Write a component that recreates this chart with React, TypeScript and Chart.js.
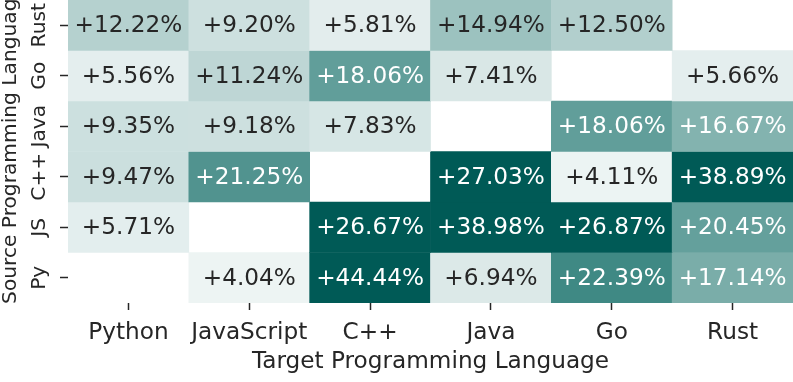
import React, { useEffect, useRef } from "react";
import { Chart, registerables } from "chart.js";

Chart.register(...registerables);

// Target (columns, left to right)
const targetLanguages = ["Python", "JavaScript", "C++", "Java", "Go", "Rust"];
// Source (rows, top to bottom)
const sourceLanguages = ["Rust", "Go", "Java", "C++", "JS", "Py"];

// Relative improvement (%) per source row; null = same language (blank cell)
const rowRust = [12.22, 9.2, 5.81, 14.94, 12.5, null];
const rowGo = [5.56, 11.24, 18.06, 7.41, null, 5.66];
const rowJava = [9.35, 9.18, 7.83, null, 18.06, 16.67];
const rowCpp = [9.47, 21.25, null, 27.03, 4.11, 38.89];
const rowJS = [5.71, null, 26.67, 38.98, 26.87, 20.45];
const rowPy = [null, 4.04, 44.44, 6.94, 22.39, 17.14];

const xTitle = "Target Programming Language";
const yTitle = "Source Programming Language";

const FONT = "'DejaVu Sans', 'Liberation Sans', sans-serif";
const FONT_SIZE = 23.2;
const Y_FONT_SIZE = 20.2;
const TEXT_DARK = "#262626";

// colour scale stops (value -> rgb)
const colorStops: [number, number[]][] = [
  [0, [242, 247, 247]],
  [4, [237, 244, 243]],
  [5.6, [228, 238, 238]],
  [7.5, [216, 231, 230]],
  [9.3, [204, 224, 223]],
  [11.2, [190, 214, 213]],
  [12.5, [178, 207, 205]],
  [15, [155, 194, 191]],
  [17, [126, 176, 172]],
  [18, [97, 158, 154]],
  [20.5, [100, 160, 156]],
  [21.5, [74, 143, 138]],
  [22.5, [62, 136, 131]],
  [24.5, [30, 113, 108]],
  [26.5, [0, 90, 86]],
];

function colorFor(v: number): string {
  if (v <= colorStops[0][0]) return `rgb(${colorStops[0][1].join(",")})`;
  for (let i = 1; i < colorStops.length; i++) {
    const [v1, c1] = colorStops[i];
    if (v <= v1) {
      const [v0, c0] = colorStops[i - 1];
      const t = (v - v0) / (v1 - v0);
      const c = c0.map((a, k) => Math.round(a + (c1[k] - a) * t));
      return `rgb(${c.join(",")})`;
    }
  }
  return `rgb(${colorStops[colorStops.length - 1][1].join(",")})`;
}

export default function App() {
  const ref = useRef<HTMLCanvasElement>(null);

  useEffect(() => {
    document.body.style.margin = "0";
    const canvas = ref.current;
    if (!canvas) return;
    const rows = [rowRust, rowGo, rowJava, rowCpp, rowJS, rowPy];
    const n = sourceLanguages.length;

    const datasets = rows.map((vals, i) => ({
      label: sourceLanguages[i],
      data: vals.map((v) => (v == null ? null : [n - 1 - i, n - i])),
      backgroundColor: vals.map((v) => (v == null ? "rgba(0,0,0,0)" : colorFor(v))),
      borderWidth: 0,
      barPercentage: 1,
      categoryPercentage: 1,
      grouped: false,
    }));

    const cellLabels = {
      id: "cellLabels",
      afterDatasetsDraw(chart: any) {
        const ctx = chart.ctx;
        ctx.save();
        ctx.font = `${FONT_SIZE}px ${FONT}`;
        ctx.textAlign = "center";
        ctx.textBaseline = "middle";
        rows.forEach((vals, di) => {
          const meta = chart.getDatasetMeta(di);
          meta.data.forEach((el: any, j: number) => {
            const v = vals[j];
            if (v == null) return;
            const cx = el.x;
            const cy = (el.y + el.base) / 2;
            ctx.fillStyle = v > 16 ? "#ffffff" : TEXT_DARK;
            ctx.fillText(`+${v.toFixed(2)}%`, cx, cy + 1);
          });
        });
        // y tick labels (rotated)
        const ys = chart.scales.y;
        ctx.fillStyle = TEXT_DARK;
        ctx.font = `${Y_FONT_SIZE}px ${FONT}`;
        sourceLanguages.forEach((name, i) => {
          const py = ys.getPixelForValue(n - 0.5 - i);
          ctx.save();
          ctx.translate(40, py);
          ctx.rotate(-Math.PI / 2);
          ctx.textAlign = "center";
          ctx.textBaseline = "middle";
          ctx.fillText(name, 0, 0);
          ctx.restore();
        });
        // y axis title (rotated)
        ctx.save();
        ctx.translate(11, 145);
        ctx.rotate(-Math.PI / 2);
        ctx.textAlign = "center";
        ctx.textBaseline = "middle";
        ctx.fillText(yTitle, 0, 0);
        ctx.restore();
        ctx.restore();
      },
    };

    const chart = new Chart(canvas, {
      type: "bar",
      data: { labels: targetLanguages, datasets: datasets as any },
      options: {
        animation: false,
        responsive: false,
        maintainAspectRatio: false,
        devicePixelRatio: 1,
        layout: { padding: 0 },
        plugins: { legend: { display: false }, tooltip: { enabled: false } },
        scales: {
          x: {
            type: "category",
            offset: true,
            grid: {
              offset: false,
              drawOnChartArea: false,
              drawTicks: true,
              tickLength: 7,
              tickWidth: 1.5,
              tickColor: TEXT_DARK,
            },
            border: { display: false },
            ticks: {
              color: TEXT_DARK,
              font: { family: FONT, size: FONT_SIZE },
              padding: 9,
              maxRotation: 0,
              autoSkip: false,
            },
            title: {
              display: true,
              text: xTitle,
              color: TEXT_DARK,
              font: { family: FONT, size: FONT_SIZE },
              padding: { top: 2, bottom: 6 },
            },
            afterFit(scale: any) {
              scale.height = 79;
            },
          },
          y: {
            type: "linear",
            min: 0,
            max: n,
            afterBuildTicks(scale: any) {
              scale.ticks = sourceLanguages.map((_, i) => ({ value: n - 0.5 - i }));
            },
            grid: {
              drawOnChartArea: false,
              drawTicks: true,
              tickLength: 8,
              tickWidth: 1.5,
              tickColor: TEXT_DARK,
            },
            border: { display: false },
            ticks: { display: false },
            title: { display: false },
            afterFit(scale: any) {
              scale.width = 68;
            },
          },
        },
      },
      plugins: [cellLabels],
    });

    return () => chart.destroy();
  }, []);

  return (
    <canvas
      ref={ref}
      width={793}
      height={382}
      style={{ display: "block", width: 793, height: 382 }}
    />
  );
}
